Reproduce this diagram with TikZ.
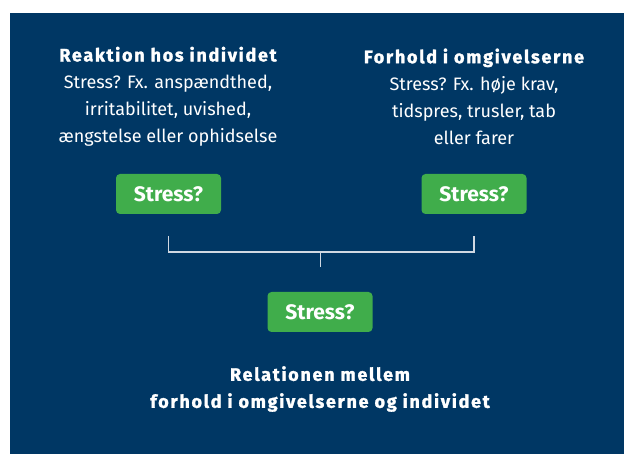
\documentclass[tikz,border=0pt]{standalone}
\usepackage{fontspec}
\setmainfont{Fira Sans}[Ligatures=NoCommon]
\newfontfamily\heavyfont{Fira Sans}[Ligatures=NoCommon, LetterSpace=9.5, BoldFeatures={FakeBold=1.5}]
\definecolor{navy}{HTML}{003764}
\definecolor{boxgreen}{HTML}{40AD4B}
\definecolor{bracket}{HTML}{D0D8E2}
\begin{document}
\begin{tikzpicture}[x=1pt,y=-1pt,
  stressbox/.style={fill=boxgreen, rounded corners=4pt, minimum width=105pt, minimum height=40pt, inner sep=0pt, text=white, font=\fontsize{21}{22}\selectfont\bfseries},
  desc/.style={text=white, align=center, inner sep=0pt, font=\fontsize{18}{27}\selectfont},
  heading/.style={font=\fontsize{18}{27}\selectfont\heavyfont\bfseries},
  bracketline/.style={draw=bracket, line width=1.2pt}]
\useasboundingbox (0,0) rectangle (624,454);
\fill[navy] (10,13) rectangle (624,454);
\node[desc] (lefttext) at (168,96.5) {{\heavyfont\bfseries Reaktion hos individet}\\Stress? Fx. anspændthed,\\irritabilitet, uvished,\\ængstelse eller ophidselse};
\node[desc] (righttext) at (474,96.5) {{\heavyfont\bfseries Forhold i omgivelserne}\\Stress? Fx. høje krav,\\tidspres, trusler, tab\\eller farer};
\node[stressbox] (left) at (168.5,194) {Stress?};
\node[stressbox] (right) at (474,194) {Stress?};
\node[stressbox] (mid) at (320,312) {Stress?};
\coordinate (bl) at (168.5,236);
\coordinate (br) at (474,236);
\coordinate (bm) at (320.5,252);
\coordinate (bs) at (320.5,267);
\draw[bracketline] (bl) -- (bl |- bm) -- (br |- bm) -- (br);
\draw[bracketline] (bm) -- (bs);
\node[desc, heading] (bottomtext) at (320,389) {Relationen mellem\\forhold i omgivelserne og individet};
\end{tikzpicture}
\end{document}
